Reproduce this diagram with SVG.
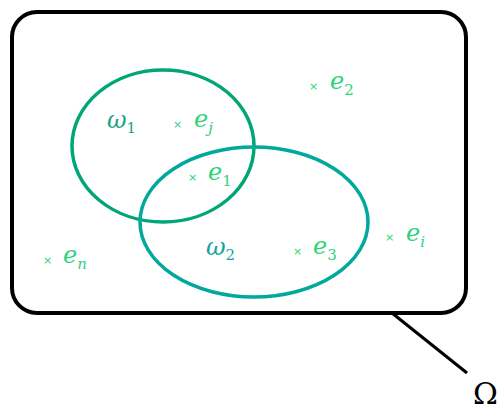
<svg xmlns="http://www.w3.org/2000/svg" width="497" height="410" viewBox="0 0 497 410">
<style>
.lbl{font-family:"DejaVu Serif","Liberation Serif",serif;font-style:italic;font-size:24px}
.sub{font-family:"DejaVu Serif","Liberation Serif",serif;font-size:15px;font-style:normal}
.subi{font-family:"DejaVu Serif","Liberation Serif",serif;font-size:15px;font-style:italic}
.e{fill:#2fd47a}
.x{fill:#2fd47a;font-family:"DejaVu Sans",sans-serif;font-size:11px}
.w1{fill:#1ba57e}
.w2{fill:#14a49a}
</style>
<rect width="497" height="410" fill="#ffffff"/>
<g id="omega">
<rect x="12" y="12" width="454" height="301" rx="25" fill="none" stroke="#000" stroke-width="4"/>
</g>
<g id="connectors">
<line x1="392" y1="313" x2="467" y2="373" stroke="#000" stroke-width="3"/>
</g>
<g id="omega-label"><text x="473" y="404" font-family="DejaVu Serif, Liberation Serif, serif" font-size="30" fill="#000">Ω</text></g>
<g id="w1">
<ellipse cx="163" cy="146" rx="91" ry="76" fill="none" stroke="#00a676" stroke-width="3.5"/>
<text class="lbl w1" x="107" y="128">ω<tspan class="sub" dy="5">1</tspan></text>
</g>
<g id="w2">
<ellipse cx="254" cy="222" rx="114" ry="75" fill="none" stroke="#00a99c" stroke-width="3.5"/>
<text class="lbl w2" x="206" y="255">ω<tspan class="sub" dy="5">2</tspan></text>
</g>
<g id="ej"><text class="x" x="173" y="128">×</text><text class="lbl e" x="194" y="127">e<tspan class="subi" dy="6">j</tspan></text></g>
<g id="e1"><text class="x" x="188" y="181">×</text><text class="lbl e" x="208" y="180">e<tspan class="sub" dy="6">1</tspan></text></g>
<g id="e3"><text class="x" x="293" y="255">×</text><text class="lbl e" x="313" y="254">e<tspan class="sub" dy="6">3</tspan></text></g>
<g id="e2"><text class="x" x="309" y="90">×</text><text class="lbl e" x="330" y="89">e<tspan class="sub" dy="6">2</tspan></text></g>
<g id="ei"><text class="x" x="385" y="241">×</text><text class="lbl e" x="406" y="241">e<tspan class="subi" dy="6">i</tspan></text></g>
<g id="en"><text class="x" x="43" y="264">×</text><text class="lbl e" x="63" y="263">e<tspan class="subi" dy="6">n</tspan></text></g>
</svg>
